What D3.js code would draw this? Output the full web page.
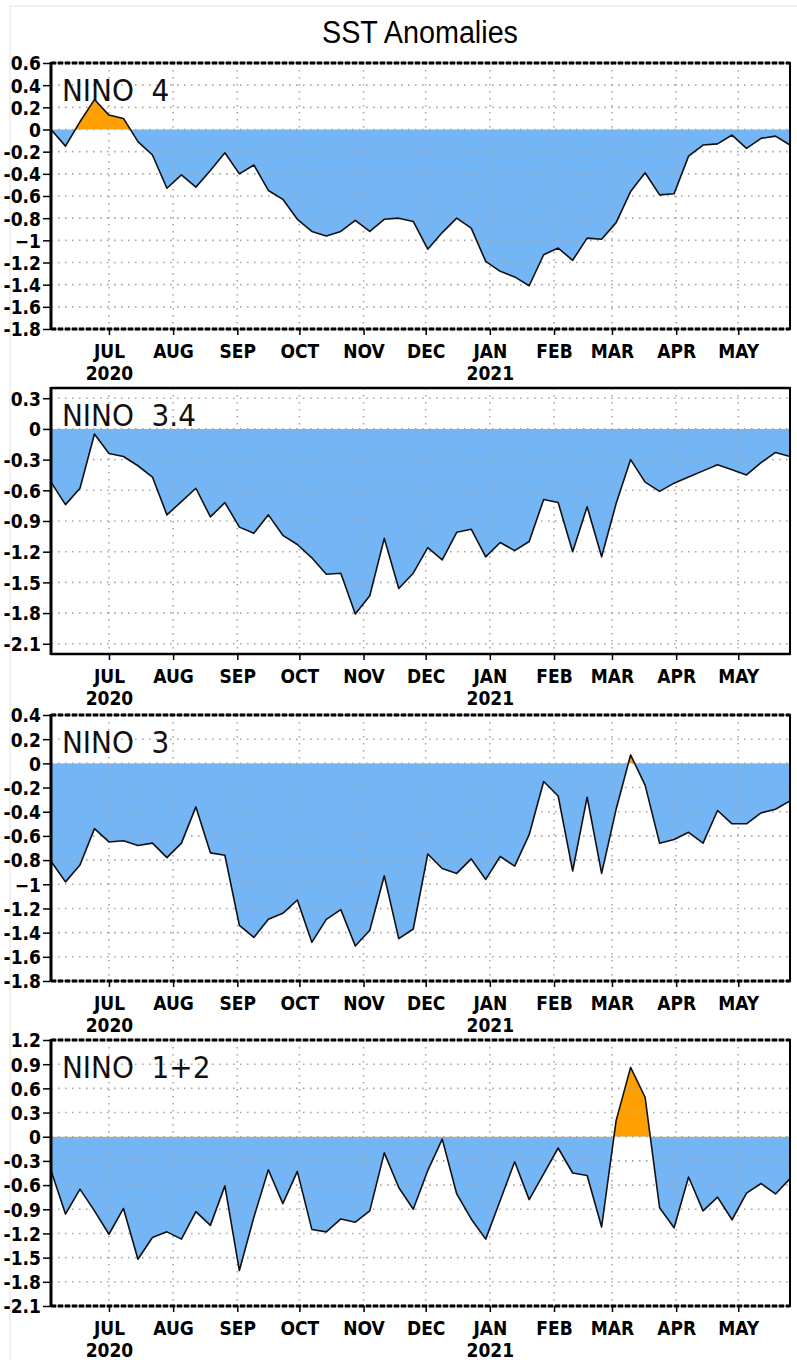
<!DOCTYPE html>
<html>
<head>
<meta charset="utf-8">
<script src="https://cdn.jsdelivr.net/npm/d3@7"></script>
<style>
  body { margin: 0; background: #fff; }
  svg { display: block; }
  .tick text { font-family: "Liberation Sans Narrow", "DejaVu Sans Condensed", "Arial Narrow", sans-serif; font-weight: bold; fill: #000; }
</style>
</head>
<body>
<div id="container"></div>
<script>
// weekly OISST anomalies, centred on Wednesdays 3 Jun 2020 .. 26 May 2021
const weeks = d3.timeDay.range(new Date(2020, 5, 3), new Date(2021, 4, 27), 7);

const nino4 = [0.0,-0.15,0.07,0.27,0.13,0.10,-0.11,-0.23,-0.53,-0.41,-0.52,-0.37,-0.21,-0.40,-0.32,-0.55,-0.63,-0.81,-0.92,-0.96,-0.92,-0.82,-0.92,-0.81,-0.80,-0.83,-1.08,-0.93,-0.80,-0.89,-1.19,-1.28,-1.33,-1.41,-1.13,-1.07,-1.18,-0.98,-0.99,-0.84,-0.56,-0.39,-0.59,-0.58,-0.24,-0.14,-0.13,-0.05,-0.17,-0.08,-0.06,-0.14];
const nino34 = [-0.52,-0.74,-0.58,-0.05,-0.24,-0.27,-0.36,-0.47,-0.84,-0.71,-0.58,-0.86,-0.72,-0.96,-1.02,-0.84,-1.04,-1.13,-1.26,-1.42,-1.41,-1.81,-1.63,-1.07,-1.56,-1.41,-1.16,-1.28,-1.01,-0.98,-1.25,-1.11,-1.19,-1.10,-0.69,-0.72,-1.20,-0.76,-1.25,-0.73,-0.30,-0.52,-0.61,-0.53,-0.47,-0.41,-0.35,-0.40,-0.45,-0.33,-0.23,-0.27];
const nino3 = [-0.81,-0.98,-0.84,-0.54,-0.65,-0.64,-0.68,-0.66,-0.78,-0.66,-0.36,-0.74,-0.76,-1.34,-1.44,-1.29,-1.24,-1.13,-1.48,-1.29,-1.21,-1.51,-1.38,-0.93,-1.45,-1.37,-0.75,-0.87,-0.91,-0.79,-0.96,-0.77,-0.85,-0.59,-0.15,-0.27,-0.89,-0.28,-0.91,-0.38,0.07,-0.18,-0.66,-0.63,-0.57,-0.66,-0.39,-0.50,-0.50,-0.41,-0.38,-0.31];
const nino12 = [-0.42,-0.96,-0.65,-0.92,-1.21,-0.89,-1.52,-1.25,-1.18,-1.27,-0.93,-1.10,-0.61,-1.66,-1.00,-0.41,-0.83,-0.43,-1.15,-1.18,-1.02,-1.06,-0.92,-0.20,-0.63,-0.90,-0.42,-0.03,-0.71,-1.02,-1.27,-0.79,-0.31,-0.78,-0.46,-0.14,-0.45,-0.48,-1.12,0.20,0.86,0.49,-0.88,-1.13,-0.50,-0.92,-0.75,-1.03,-0.70,-0.58,-0.71,-0.52];

const ticks4 = [0.6,0.4,0.2,0,-0.2,-0.4,-0.6,-0.8,-1,-1.2,-1.4,-1.6,-1.8];
const ticks34 = [0.3,0,-0.3,-0.6,-0.9,-1.2,-1.5,-1.8,-2.1];
const ticks3 = [0.4,0.2,0,-0.2,-0.4,-0.6,-0.8,-1,-1.2,-1.4,-1.6,-1.8];
const ticks12 = [1.2,0.9,0.6,0.3,0,-0.3,-0.6,-0.9,-1.2,-1.5,-1.8,-2.1];

const monthLabels = ["JUL","AUG","SEP","OCT","NOV","DEC","JAN","FEB","MAR","APR","MAY"];
const yearLabels = { JUL: "2020", JAN: "2021" };
const names = ["NINO  4", "NINO  3.4", "NINO  3", "NINO  1+2"];

const panels = [
  { name: names[0], values: nino4,  ticks: ticks4,  domain: [-1.8, 0.6], top: 63 },
  { name: names[1], values: nino34, ticks: ticks34, domain: [-2.2, 0.4], top: 388 },
  { name: names[2], values: nino3,  ticks: ticks3,  domain: [-1.8, 0.4], top: 715 },
  { name: names[3], values: nino12, ticks: ticks12, domain: [-2.1, 1.2], top: 1040 }
];

const width = 797, height = 1360;
const left = 51, right = 790, panelH = 266;
const blue = "#74b5f5", orange = "#ffa000";

const svg = d3.select("#container").append("svg")
  .attr("width", width).attr("height", height);

// faint outer frame
svg.append("rect").attr("x", 10).attr("y", 6).attr("width", 800).attr("height", 1400)
  .attr("fill", "none").attr("stroke", "#e2e2e2").attr("stroke-width", 1);

svg.append("text")
  .attr("x", 420).attr("y", 43)
  .attr("text-anchor", "middle")
  .attr("font-family", "'Liberation Sans', Arial, sans-serif")
  .attr("font-size", 31)
  .attr("textLength", 196).attr("lengthAdjust", "spacingAndGlyphs")
  .text("SST Anomalies");

const x = d3.scaleTime().domain([weeks[0], weeks[weeks.length - 1]]).range([left, right]);
const months = d3.timeMonth.range(new Date(2020, 6, 1), new Date(2021, 4, 2));

const fmt = v => v === 0 ? "0" : Number.isInteger(v) ? "\u2212" + Math.abs(v) : String(v);

panels.forEach((p, k) => {
  const y = d3.scaleLinear().domain(p.domain).range([p.top + panelH, p.top]);
  const g = svg.append("g");
  const y0 = y(0);

  const area = d3.area()
    .x((d, i) => x(weeks[i]))
    .y0(y0)
    .y1(d => y(d));

  // clip regions above and below zero
  const defs = svg.append("defs");
  defs.append("clipPath").attr("id", "pos" + k).append("rect")
    .attr("x", left).attr("y", p.top).attr("width", right - left).attr("height", y0 - p.top);
  defs.append("clipPath").attr("id", "neg" + k).append("rect")
    .attr("x", left).attr("y", y0).attr("width", right - left).attr("height", p.top + panelH - y0);

  g.append("path").datum(p.values).attr("d", area)
    .attr("fill", orange).attr("clip-path", `url(#pos${k})`);
  g.append("path").datum(p.values).attr("d", area)
    .attr("fill", blue).attr("clip-path", `url(#neg${k})`);

  // dotted grid
  g.selectAll(".hg").data(p.ticks.filter(t => t > p.domain[0] && t < p.domain[1])).join("line")
    .attr("x1", left).attr("x2", right)
    .attr("y1", d => y(d)).attr("y2", d => y(d))
    .attr("stroke", "#a8a8a8").attr("stroke-width", 1.6)
    .attr("stroke-dasharray", "1.6,5.4");
  g.selectAll(".vg").data(months).join("line")
    .attr("x1", d => x(d)).attr("x2", d => x(d))
    .attr("y1", p.top).attr("y2", p.top + panelH)
    .attr("stroke", "#a8a8a8").attr("stroke-width", 1.6)
    .attr("stroke-dasharray", "1.6,5.4");

  // series line
  g.append("path").datum(p.values)
    .attr("d", d3.line().x((d, i) => x(weeks[i])).y(d => y(d)))
    .attr("fill", "none").attr("stroke", "#111").attr("stroke-width", 1.6)
    .attr("stroke-linejoin", "round");

  // frame: top/bottom look dashed where they sit on a grid level
  const edge = (yy, dashed) => {
    if (dashed) {
      g.append("line").attr("x1", left).attr("x2", right).attr("y1", yy).attr("y2", yy)
        .attr("stroke", "#999").attr("stroke-width", 2.5);
      g.append("line").attr("x1", left).attr("x2", right).attr("y1", yy).attr("y2", yy)
        .attr("stroke", "#000").attr("stroke-width", 3).attr("stroke-dasharray", "5,2");
    } else {
      g.append("line").attr("x1", left).attr("x2", right).attr("y1", yy).attr("y2", yy)
        .attr("stroke", "#000").attr("stroke-width", 2.5);
    }
  };
  edge(p.top, p.ticks.includes(p.domain[1]));
  edge(p.top + panelH, p.ticks.includes(p.domain[0]));
  g.append("line").attr("x1", left).attr("x2", left).attr("y1", p.top - 1).attr("y2", p.top + panelH + 1)
    .attr("stroke", "#000").attr("stroke-width", 3);
  g.append("line").attr("x1", right).attr("x2", right).attr("y1", p.top - 1).attr("y2", p.top + panelH + 1)
    .attr("stroke", "#000").attr("stroke-width", 2);

  // axes
  const ya = g.append("g").attr("transform", `translate(${left - 1},0)`)
    .call(d3.axisLeft(y).tickValues(p.ticks).tickSize(7).tickPadding(2).tickFormat(fmt));
  ya.select(".domain").remove();
  ya.selectAll(".tick line").attr("stroke", "#000").attr("stroke-width", 1.5);
  ya.selectAll(".tick text").attr("font-size", 19).attr("dy", "0.36em");

  const xa = g.append("g").attr("transform", `translate(0,${p.top + panelH})`)
    .call(d3.axisBottom(x).tickValues(months).tickSize(6).tickPadding(10)
      .tickFormat((d, i) => monthLabels[i]));
  xa.select(".domain").remove();
  xa.selectAll(".tick line").attr("stroke", "#000").attr("stroke-width", 1.5);
  xa.selectAll(".tick text").attr("font-size", 19);
  xa.selectAll(".tick").filter((d, i) => yearLabels[monthLabels[i]])
    .append("text")
    .attr("y", 51).attr("fill", "#000")
    .attr("font-size", 19)
    .text((d) => yearLabels[monthLabels[months.indexOf(d)]] || "");

  g.append("text")
    .attr("x", 62).attr("y", p.top + 38)
    .attr("font-family", "'Liberation Sans Narrow', 'DejaVu Sans Condensed', sans-serif")
    .attr("font-size", 31)
    .attr("fill", "#111")
    .attr("xml:space", "preserve")
    .style("white-space", "pre")
    .text(p.name);
});
</script>
</body>
</html>
